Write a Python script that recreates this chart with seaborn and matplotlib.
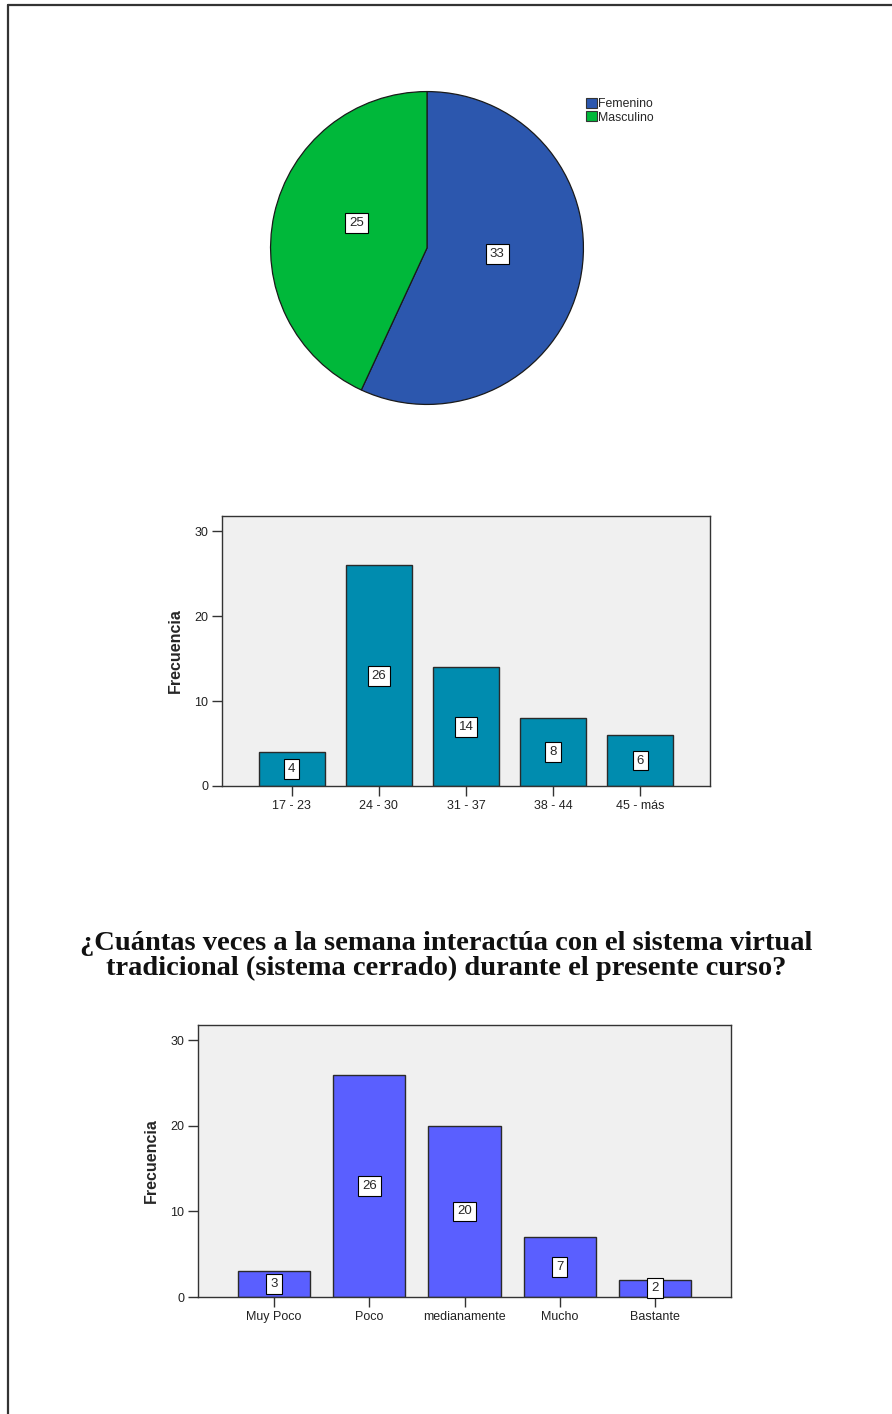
import matplotlib
matplotlib.use("Agg")
import matplotlib.pyplot as plt
from matplotlib.lines import Line2D
from matplotlib.patches import Patch
import numpy as np
import pandas as pd
import seaborn as sns

# Gender distribution
sexo_labels = ["Femenino", "Masculino"]
sexo_counts = [33, 25]
sexo_colors = ["#2C57AE", "#00B83A"]

# Age groups
edad_labels = ["17 - 23", "24 - 30", "31 - 37", "38 - 44", "45 - más"]
edad_counts = [4, 26, 14, 8, 6]

# Weekly interaction with the closed virtual system
uso_labels = ["Muy Poco", "Poco", "medianamente", "Mucho", "Bastante"]
uso_counts = [3, 26, 20, 7, 2]

titulo = ("¿Cuántas veces a la semana interactúa con el sistema virtual\n"
          "tradicional (sistema cerrado) durante el presente curso?")

sns.set_theme(style="white")
plt.rcParams["font.family"] = ["Liberation Sans", "DejaVu Sans"]

W, H = 892, 1414
fig = plt.figure(figsize=(W / 100, H / 100), dpi=100)
fig.patch.set_facecolor("white")


def px_axes(left, top, right, bottom):
    return fig.add_axes([left / W, 1 - bottom / H, (right - left) / W, (bottom - top) / H])


box = dict(boxstyle="square,pad=0.3", facecolor="white", edgecolor="black", linewidth=0.8)

# ---- Pie chart ----
axp = px_axes(269, 90, 585, 406)
wedges, _ = axp.pie(sexo_counts, colors=sexo_colors, startangle=90, counterclock=False,
                    wedgeprops=dict(edgecolor="#1a1a1a", linewidth=0.9))
total = sum(sexo_counts)
ang = 90.0
for val in sexo_counts:
    sweep = 360.0 * val / total
    mid = np.deg2rad(ang - sweep / 2)
    axp.text(0.46 * np.cos(mid), 0.46 * np.sin(mid) + 0.06, str(val),
             ha="center", va="center", fontsize=9.5, bbox=box)
    ang -= sweep
axp.set_xlim(-1.01, 1.01)
axp.set_ylim(-1.01, 1.01)
axp.set_aspect("equal")

handles = [Patch(facecolor=c, edgecolor="#333333", linewidth=0.8) for c in sexo_colors]
fig.legend(handles, sexo_labels, loc="upper left", bbox_to_anchor=(577 / W, 1 - 89 / H),
           frameon=False, fontsize=8.8, handlelength=0.9, handleheight=0.9,
           handletextpad=0.1, labelspacing=0.12, borderpad=0.2)


def bar_panel(ax, labels, counts, color):
    df = pd.DataFrame({"cat": labels, "n": counts})
    sns.barplot(data=df, x="cat", y="n", color=color, width=0.76, saturation=1,
                edgecolor="#2a2a2a", linewidth=1.0, ax=ax)
    ax.set_facecolor("#F0F0F0")
    ax.set_xlim(-0.8, len(labels) - 0.2)
    ax.set_ylim(0, 31.8)
    ax.set_yticks([0, 10, 20, 30])
    ax.set_xlabel("")
    ax.set_ylabel("Frecuencia", fontsize=11.5, fontweight="bold", labelpad=8)
    ax.tick_params(axis="both", which="major", direction="out", length=7, width=1,
                   color="#333333", labelsize=9, labelcolor="#222222", pad=3,
                   bottom=True, left=True)
    for s in ax.spines.values():
        s.set_color("#333333")
        s.set_linewidth(1.0)
    for i, v in enumerate(counts):
        ax.text(i, v / 2, str(v), ha="center", va="center", fontsize=9.5, bbox=box)


ax1 = px_axes(222, 516, 710, 786)
bar_panel(ax1, edad_labels, edad_counts, "#008CAF")

ax2 = px_axes(198, 1025, 731, 1297)
bar_panel(ax2, uso_labels, uso_counts, "#5A5FFF")

fig.text(446 / W, 1 - 956 / H, titulo, ha="center", va="center", fontsize=20.5,
         fontweight="bold", family=["Liberation Serif", "DejaVu Serif"],
         linespacing=1.0, color="#111111")

# Page frame (top and left edges)
fig.add_artist(Line2D([8 / W, 1], [1 - 5 / H, 1 - 5 / H], transform=fig.transFigure,
                      color="#333333", linewidth=1.6))
fig.add_artist(Line2D([8 / W, 8 / W], [0, 1 - 5 / H], transform=fig.transFigure,
                      color="#333333", linewidth=1.6))

fig.savefig("out.png", dpi=100, facecolor="white")
